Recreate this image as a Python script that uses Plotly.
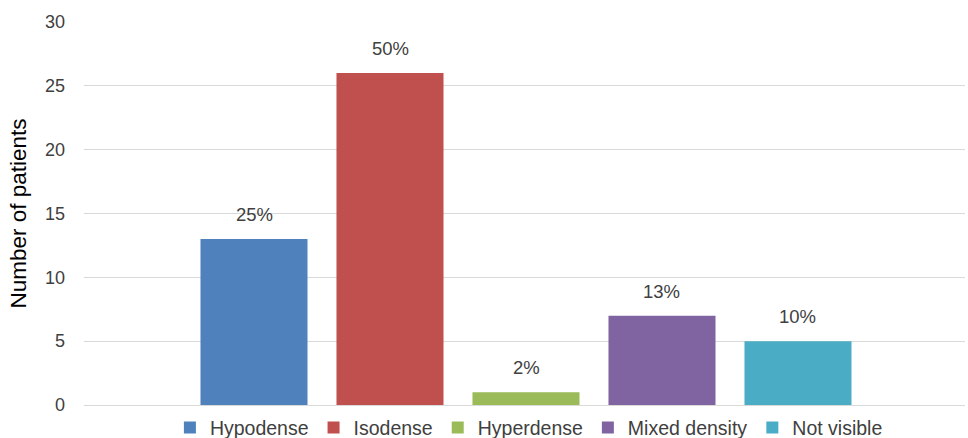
import plotly.graph_objects as go

# Lesion density on CT, number of patients per category
categories = ["Hypodense", "Isodense", "Hyperdense", "Mixed density", "Not visible"]
patients = [13, 26, 1, 7, 5]
colors = ["#4F81BD", "#C0504D", "#9BBB59", "#8064A2", "#4BACC6"]
y_ticks = [0, 5, 10, 15, 20, 25, 30]

total = sum(patients)
percent_labels = [f"{round(v / total * 100)}%" for v in patients]

FONT = "Liberation Sans"
TEXT_COLOR = "#404040"

fig = go.Figure()
for name, value, color in zip(categories, patients, colors):
    fig.add_trace(go.Bar(
        x=[name],
        y=[value],
        name=name,
        marker=dict(color=color, line=dict(width=0)),
    ))

# percentage share printed above each bar
for name, value, label in zip(categories, patients, percent_labels):
    fig.add_annotation(
        x=name, y=value, text=label,
        xref="x", yref="y",
        showarrow=False,
        yanchor="bottom",
        yshift=12,
        font=dict(family=FONT, size=18.5, color=TEXT_COLOR),
    )

fig.update_layout(
    width=968,
    height=438,
    margin=dict(l=84, r=3, t=22, b=33, autoexpand=False),
    paper_bgcolor="white",
    plot_bgcolor="white",
    barmode="overlay",
    bargap=0.213,
    font=dict(family=FONT, color=TEXT_COLOR),
    showlegend=True,
    legend=dict(
        orientation="h",
        x=0.505,
        xanchor="center",
        yref="container",
        y=0.023,
        yanchor="middle",
        font=dict(family=FONT, size=19.5, color=TEXT_COLOR),
        itemwidth=30,
        traceorder="normal",
    ),
)
fig.update_xaxes(
    type="category",
    categoryorder="array",
    categoryarray=categories,
    range=[-1.25, 5.228],
    showticklabels=False,
    showgrid=False,
    zeroline=False,
    showline=False,
    ticks="",
)
fig.update_yaxes(
    range=[0, 30],
    tickvals=y_ticks,
    showgrid=True,
    gridcolor="#D9D9D9",
    gridwidth=1,
    zeroline=True,
    zerolinecolor="#D9D9D9",
    zerolinewidth=1,
    showline=False,
    ticks="",
    ticklabelstandoff=18,
    tickfont=dict(family=FONT, size=18, color=TEXT_COLOR),
    title=dict(text="Number of patients", font=dict(family=FONT, size=22.5, color="#000000"), standoff=12),
)

fig.write_html("out.html")
